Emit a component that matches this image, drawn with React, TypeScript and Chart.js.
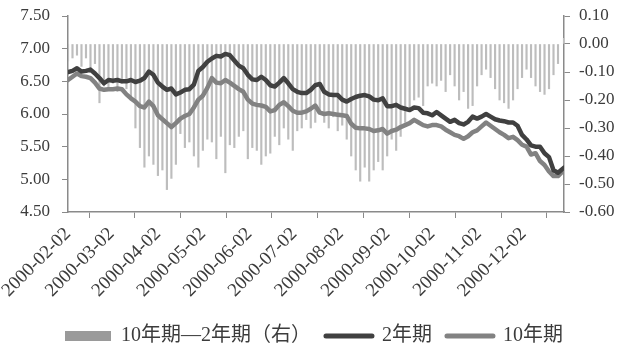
import { useEffect, useRef } from 'react';
import { Chart, registerables } from 'chart.js';

Chart.register(...registerables);

const dates = [
  '2000-02-02', '2000-02-05', '2000-02-08', '2000-02-11', '2000-02-14', '2000-02-17', '2000-02-20', '2000-02-23', '2000-02-26', '2000-02-29',
  '2000-03-03', '2000-03-06', '2000-03-09', '2000-03-12', '2000-03-15', '2000-03-18', '2000-03-21', '2000-03-24', '2000-03-27', '2000-03-30',
  '2000-04-02', '2000-04-05', '2000-04-08', '2000-04-11', '2000-04-14', '2000-04-17', '2000-04-20', '2000-04-23', '2000-04-26', '2000-04-29',
  '2000-05-02', '2000-05-05', '2000-05-08', '2000-05-11', '2000-05-14', '2000-05-17', '2000-05-20', '2000-05-23', '2000-05-26', '2000-05-29',
  '2000-06-01', '2000-06-04', '2000-06-07', '2000-06-10', '2000-06-13', '2000-06-16', '2000-06-19', '2000-06-22', '2000-06-25', '2000-06-28',
  '2000-07-01', '2000-07-04', '2000-07-07', '2000-07-10', '2000-07-13', '2000-07-16', '2000-07-19', '2000-07-22', '2000-07-25', '2000-07-28',
  '2000-07-31', '2000-08-03', '2000-08-06', '2000-08-09', '2000-08-12', '2000-08-15', '2000-08-18', '2000-08-21', '2000-08-24', '2000-08-27',
  '2000-08-30', '2000-09-02', '2000-09-05', '2000-09-08', '2000-09-11', '2000-09-14', '2000-09-17', '2000-09-20', '2000-09-23', '2000-09-26',
  '2000-09-29', '2000-10-02', '2000-10-05', '2000-10-08', '2000-10-11', '2000-10-14', '2000-10-17', '2000-10-20', '2000-10-23', '2000-10-26',
  '2000-10-29', '2000-11-01', '2000-11-04', '2000-11-07', '2000-11-10', '2000-11-13', '2000-11-16', '2000-11-19', '2000-11-22', '2000-11-25',
  '2000-11-28', '2000-12-01', '2000-12-04', '2000-12-07', '2000-12-10', '2000-12-13', '2000-12-16', '2000-12-19', '2000-12-22', '2000-12-25',
  '2000-12-29',
];

const yield2 = [
  6.64, 6.66, 6.70, 6.65, 6.66, 6.68, 6.62, 6.55, 6.47, 6.52,
  6.51, 6.52, 6.50, 6.50, 6.52, 6.49, 6.51, 6.55, 6.65, 6.60,
  6.48, 6.42, 6.37, 6.39, 6.30, 6.33, 6.37, 6.38, 6.45, 6.66,
  6.72, 6.80, 6.85, 6.89, 6.88, 6.92, 6.90, 6.82, 6.74, 6.70,
  6.60, 6.53, 6.52, 6.57, 6.52, 6.44, 6.42, 6.48, 6.55, 6.47,
  6.38, 6.34, 6.32, 6.32, 6.37, 6.44, 6.46, 6.34, 6.30, 6.29,
  6.29, 6.22, 6.19, 6.23, 6.26, 6.28, 6.29, 6.27, 6.22, 6.21,
  6.24, 6.12, 6.12, 6.14, 6.10, 6.08, 6.06, 6.10, 6.09, 6.02,
  6.01, 5.98, 6.03, 5.98, 5.93, 5.88, 5.91, 5.86, 5.84, 5.88,
  5.96, 5.93, 5.96, 6.00, 5.96, 5.92, 5.90, 5.89, 5.87, 5.87,
  5.82, 5.68, 5.61, 5.52, 5.50, 5.50, 5.40, 5.34, 5.14, 5.10,
  5.18,
];

const yield10 = [
  6.52, 6.57, 6.62, 6.58, 6.57, 6.55, 6.48, 6.39, 6.37, 6.38,
  6.38, 6.39, 6.38, 6.30, 6.24, 6.19, 6.12, 6.10, 6.19, 6.12,
  5.98, 5.92, 5.86, 5.80, 5.86, 5.93, 5.97, 6.00, 6.10, 6.22,
  6.28, 6.40, 6.55, 6.48, 6.47, 6.52, 6.48, 6.43, 6.38, 6.34,
  6.22, 6.16, 6.14, 6.13, 6.11, 6.04, 6.06, 6.14, 6.18, 6.12,
  6.05, 6.02, 6.02, 6.04, 6.08, 6.13, 6.02, 6.00, 6.01, 6.00,
  5.99, 5.98, 5.97, 5.85, 5.79, 5.78, 5.78, 5.77, 5.74, 5.75,
  5.77, 5.70, 5.74, 5.76, 5.80, 5.83, 5.86, 5.91, 5.87, 5.83,
  5.81, 5.83, 5.83, 5.81, 5.76, 5.72, 5.68, 5.66, 5.62, 5.66,
  5.72, 5.75, 5.81, 5.87, 5.82, 5.77, 5.72, 5.68, 5.63, 5.65,
  5.60, 5.53, 5.50, 5.38, 5.40, 5.28, 5.22, 5.12, 5.05, 5.05,
  5.14,
];

const spread = [
  -0.06, -0.05, -0.04, -0.08, -0.05, -0.10, -0.07, -0.21, -0.15, -0.16,
  -0.14, -0.17, -0.14, -0.16, -0.20, -0.30, -0.37, -0.44, -0.40, -0.43,
  -0.47, -0.45, -0.52, -0.48, -0.43, -0.32, -0.37, -0.35, -0.40, -0.44,
  -0.38, -0.34, -0.35, -0.41, -0.33, -0.46, -0.36, -0.37, -0.33, -0.31,
  -0.41, -0.37, -0.38, -0.43, -0.40, -0.39, -0.33, -0.36, -0.30, -0.34,
  -0.38, -0.31, -0.30, -0.27, -0.30, -0.28, -0.25, -0.28, -0.30, -0.26,
  -0.31, -0.29, -0.34, -0.40, -0.45, -0.49, -0.44, -0.49, -0.45, -0.42,
  -0.45, -0.40, -0.34, -0.38, -0.33, -0.28, -0.24, -0.20, -0.19, -0.22,
  -0.15, -0.14, -0.15, -0.13, -0.17, -0.11, -0.15, -0.20, -0.17, -0.23,
  -0.22, -0.15, -0.11, -0.09, -0.12, -0.16, -0.20, -0.21, -0.23, -0.20,
  -0.16, -0.12, -0.09, -0.12, -0.15, -0.17, -0.18, -0.16, -0.11, -0.07,
  0.02,
];

const xTickDates = [
  '2000-02-02', '2000-03-02', '2000-04-02', '2000-05-02', '2000-06-02', '2000-07-02',
  '2000-08-02', '2000-09-02', '2000-10-02', '2000-11-02', '2000-12-02',
];

const seriesNames = ['10年期—2年期（右）', '2年期', '10年期'];

const DAY = 86400000;
const t0 = Date.parse(dates[0]);
const dayOf = (d: string) => Math.round((Date.parse(d) - t0) / DAY);
const labelOf = (day: number) => new Date(t0 + day * DAY).toISOString().slice(0, 10);

const SERIF = "'Liberation Serif', 'Times New Roman', 'Noto Sans CJK SC', serif";
const TEXT = '#3c3c3c';
const AXIS = '#8a8a8a';

export default function App() {
  const ref = useRef<HTMLCanvasElement | null>(null);

  useEffect(() => {
    document.body.style.margin = '0';
    const canvas = ref.current;
    if (!canvas) return;
    const xs = dates.map(dayOf);
    const pts = (arr: number[]) => arr.map((v, i) => ({ x: xs[i], y: v }));

    const chart = new Chart(canvas, {
      type: 'line',
      data: {
        datasets: [
          {
            type: 'bar',
            label: seriesNames[0],
            data: pts(spread),
            yAxisID: 'y1',
            backgroundColor: '#bdbdbd',
            borderWidth: 0,
            barThickness: 1.5,
            order: 3,
            pointStyle: 'rect',
          } as any,
          {
            type: 'line',
            label: seriesNames[1],
            data: pts(yield2),
            yAxisID: 'y',
            borderColor: '#404040',
            backgroundColor: '#404040',
            borderWidth: 4.5,
            pointRadius: 0,
            tension: 0,
            borderCapStyle: 'round',
            borderJoinStyle: 'round',
            order: 1,
            pointStyle: 'line',
          },
          {
            type: 'line',
            label: seriesNames[2],
            data: pts(yield10),
            yAxisID: 'y',
            borderColor: '#828282',
            backgroundColor: '#828282',
            borderWidth: 4.5,
            pointRadius: 0,
            tension: 0,
            borderCapStyle: 'round',
            borderJoinStyle: 'round',
            order: 2,
            pointStyle: 'line',
          },
        ],
      },
      options: {
        animation: false,
        responsive: false,
        maintainAspectRatio: false,
        layout: { padding: { top: 16, bottom: -3, left: 0, right: 0 } },
        plugins: {
          tooltip: { enabled: false },
          legend: {
            position: 'bottom',
            labels: {
              usePointStyle: true,
              pointStyleWidth: 46,
              boxHeight: 10,
              padding: 15,
              color: TEXT,
              font: { family: SERIF, size: 20 },
              sort: (a: any, b: any) => a.datasetIndex - b.datasetIndex,
              generateLabels: (ch: any) => {
                const items = Chart.defaults.plugins.legend.labels.generateLabels(ch);
                items.forEach((it: any) => {
                  if (it.datasetIndex === 0) {
                    it.fillStyle = '#9a9a9a';
                    it.strokeStyle = '#9a9a9a';
                    it.lineWidth = 0;
                  } else {
                    it.lineWidth = 5;
                    it.lineCap = 'round';
                  }
                });
                return items;
              },
            },
          },
        },
        scales: {
          x: {
            type: 'linear',
            min: 0,
            max: dayOf(dates[dates.length - 1]),
            offset: false,
            afterBuildTicks: (scale: any) => {
              scale.ticks = xTickDates.map((d) => ({ value: dayOf(d) }));
            },
            afterFit: (scale: any) => {
              scale.height = 99;
            },
            grid: { display: true, drawOnChartArea: false, drawTicks: true, tickLength: 6, color: AXIS },
            border: { display: true, color: AXIS, width: 1.5 },
            ticks: {
              autoSkip: false,
              minRotation: 45,
              maxRotation: 45,
              padding: 5,
              color: TEXT,
              font: { family: SERIF, size: 19 },
              callback: (v: any) => labelOf(Number(v)),
            },
          },
          y: {
            position: 'left',
            min: 4.5,
            max: 7.5,
            afterFit: (scale: any) => {
              scale.width = 68;
              scale.paddingTop = 8;
              scale.paddingBottom = 8;
            },
            grid: { display: true, drawOnChartArea: false, drawTicks: true, tickLength: 6, color: AXIS },
            border: { display: true, color: AXIS, width: 1.5 },
            ticks: {
              stepSize: 0.5,
              padding: 12,
              color: TEXT,
              font: { family: SERIF, size: 17 },
              callback: (v: any) => Number(v).toFixed(2),
            },
          },
          y1: {
            position: 'right',
            min: -0.6,
            max: 0.1,
            afterFit: (scale: any) => {
              scale.width = 64;
              scale.paddingTop = 8;
              scale.paddingBottom = 8;
            },
            grid: { display: true, drawOnChartArea: false, drawTicks: true, tickLength: 6, color: AXIS },
            border: { display: true, color: AXIS, width: 1.5 },
            ticks: {
              stepSize: 0.1,
              padding: 9,
              color: TEXT,
              font: { family: SERIF, size: 17 },
              callback: (v: any) => {
                const n = Math.abs(Number(v)) < 1e-9 ? 0 : Number(v);
                return n.toFixed(2);
              },
            },
          },
        },
      },
    });
    return () => chart.destroy();
  }, []);

  return (
    <div style={{ width: 628, height: 353, background: '#fff' }}>
      <canvas ref={ref} width={628} height={353} style={{ display: 'block', width: 628, height: 353 }} />
    </div>
  );
}
